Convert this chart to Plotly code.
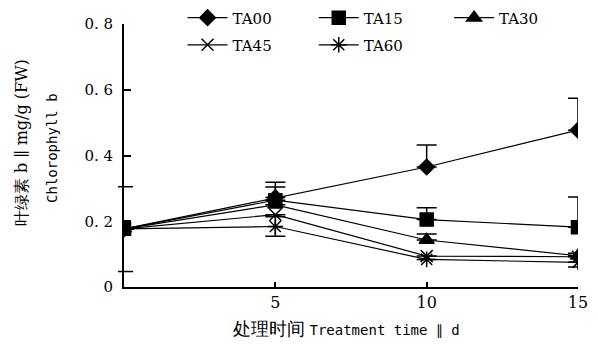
import plotly.graph_objects as go

days = [0, 5, 10, 15]
series_names = ["TA00", "TA15", "TA30", "TA45", "TA60"]
TA00 = [0.177, 0.272, 0.365, 0.477]
TA15 = [0.177, 0.264, 0.205, 0.182]
TA30 = [0.177, 0.250, 0.143, 0.095]
TA45 = [0.177, 0.220, 0.094, 0.092]
TA60 = [0.177, 0.184, 0.084, 0.075]
TA00_err_up = [0, 0.047, 0.067, 0.097]
TA00_err_dn = [0, 0, 0, 0]
TA15_err_up = [0, 0.040, 0.036, 0.092]
TA15_err_dn = [0, 0, 0, 0]
TA30_err_up = [0, 0, 0.018, 0.008]
TA30_err_dn = [0, 0, 0, 0]
TA45_err_up = [0, 0, 0, 0]
TA45_err_dn = [0, 0, 0, 0]
TA60_err_up = [0, 0.030, 0, 0]
TA60_err_dn = [0, 0.030, 0, 0.014]
y_tickvals = [0, 0.2, 0.4, 0.6, 0.8]
y_ticktext = ["0", "0. 2", "0. 4", "0. 6", "0. 8"]
x_tickvals = [5, 10, 15]
x_ticktext = ["5", "10", "15"]
extra_ticks = [0.305, 0.047]

values = [TA00, TA15, TA30, TA45, TA60]
errs_up = [TA00_err_up, TA15_err_up, TA30_err_up, TA45_err_up, TA60_err_up]
errs_dn = [TA00_err_dn, TA15_err_dn, TA30_err_dn, TA45_err_dn, TA60_err_dn]
symbols = ["diamond", "square", "triangle-up", "x-thin-open", "asterisk-open"]
sizes = [12, 13, 13, 12, 13]
legend_ids = ["legend", "legend2", "legend3", "legend4", "legend5"]
legend_pos = [(0.129, 1.023), (0.418, 1.023), (0.716, 1.023), (0.129, 0.92), (0.418, 0.92)]

SERIF = "DejaVu Serif"
MONO = "DejaVu Sans Mono"

fig = go.Figure()
for name, v, eu, ed, sym, sz, lg in zip(series_names, values, errs_up, errs_dn, symbols, sizes, legend_ids):
    fig.add_trace(go.Scatter(
        x=days, y=v, name=name, mode="lines+markers",
        line=dict(color="black", width=1.2),
        marker=dict(symbol=sym, size=sz, color="black",
                    line=dict(color="black", width=1.5)),
        error_y=dict(type="data", symmetric=False, array=eu, arrayminus=ed,
                     color="black", thickness=1.5, width=10),
        legend=lg,
    ))

legend_layout = {}
for lg, (lx, ly) in zip(legend_ids, legend_pos):
    legend_layout[lg] = dict(orientation="h", x=lx, y=ly, xanchor="left", yanchor="middle",
                             bgcolor="rgba(0,0,0,0)", font=dict(family=SERIF, size=15),
                             itemwidth=40)

fig.update_layout(
    width=598, height=344,
    margin=dict(l=124, r=20, t=24, b=57, autoexpand=False),
    paper_bgcolor="white", plot_bgcolor="white",
    font=dict(family=SERIF, size=15, color="black"),
    xaxis=dict(range=[0, 15], tickvals=x_tickvals, ticktext=x_ticktext,
               ticks="inside", ticklen=5, tickwidth=1.5, tickcolor="black",
               showline=True, linecolor="black", linewidth=2, showgrid=False,
               zeroline=False, tickfont=dict(family=SERIF, size=16)),
    yaxis=dict(range=[0, 0.8], tickvals=y_tickvals, ticktext=y_ticktext,
               ticks="inside", ticklen=7, tickwidth=1.5, tickcolor="black",
               showline=True, linecolor="black", linewidth=2, showgrid=False,
               zeroline=False, ticklabelstandoff=6,
               tickfont=dict(family=SERIF, size=15)),
    showlegend=True,
    **legend_layout,
)

for yv in extra_ticks:
    fig.add_shape(type="line", xref="paper", yref="y", x0=-0.013, x1=0.02,
                  y0=yv, y1=yv, line=dict(color="black", width=1.5))

fig.add_annotation(text="叶绿素 b ∥ mg/g (FW)", xref="paper", yref="paper",
                   x=-0.225, y=0.55, textangle=-90, showarrow=False,
                   xanchor="center", yanchor="middle",
                   font=dict(family=SERIF, size=16))
fig.add_annotation(text="Chlorophyll b", xref="paper", yref="paper",
                   x=-0.16, y=0.53, textangle=-90, showarrow=False,
                   xanchor="center", yanchor="middle",
                   font=dict(family=MONO, size=14))
fig.add_annotation(text="<span style='font-size:18px'>处理时间</span> "
                        "<span style='font-family:DejaVu Sans Mono'>Treatment time ∥ d</span>",
                   xref="paper", yref="paper", x=0.49, y=-0.156,
                   showarrow=False, xanchor="center", yanchor="middle",
                   font=dict(family=SERIF, size=14))

fig.write_html("out.html", post_script="document.body.style.margin='0';",
               config={"displayModeBar": False})
